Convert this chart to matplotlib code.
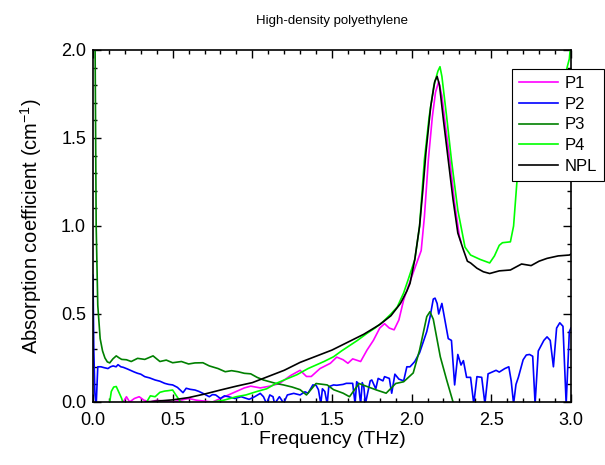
import matplotlib
matplotlib.use("Agg")
import matplotlib.pyplot as plt
import numpy as np
from matplotlib.ticker import MultipleLocator

plt.rcParams["font.family"] = ["Liberation Sans", "DejaVu Sans"]

# (frequency THz, absorption cm^-1)
p1 = [(0.19, 0.0), (0.21, 0.03), (0.23, 0.0), (0.26, 0.02), (0.29, 0.03), (0.32, 0.01),
      (0.36, 0.0), (0.40, 0.01), (0.45, 0.005), (0.50, 0.0), (0.55, 0.01), (0.60, 0.02),
      (0.65, 0.01), (0.70, 0.005), (0.75, 0.0), (0.80, 0.02), (0.85, 0.04), (0.90, 0.06),
      (0.95, 0.08), (0.99, 0.09), (1.05, 0.08), (1.11, 0.09), (1.17, 0.105), (1.24, 0.15),
      (1.30, 0.18), (1.34, 0.145), (1.37, 0.145), (1.425, 0.19), (1.49, 0.22), (1.53, 0.255),
      (1.57, 0.24), (1.60, 0.22), (1.63, 0.245), (1.68, 0.23), (1.72, 0.295), (1.76, 0.35),
      (1.80, 0.42), (1.83, 0.445), (1.86, 0.42), (1.89, 0.41), (1.92, 0.466), (1.95, 0.58),
      (1.98, 0.66), (2.02, 0.76), (2.06, 0.86), (2.08, 1.05), (2.105, 1.375), (2.13, 1.62),
      (2.15, 1.76), (2.17, 1.82), (2.19, 1.74), (2.215, 1.55), (2.24, 1.375), (2.27, 1.13),
      (2.30, 0.94), (2.31, 0.91)]

p2 = [(0.0, 0.72), (0.005, 0.3), (0.012, 0.05), (0.02, -0.02), (0.03, 0.2), (0.05, 0.2),
      (0.07, 0.195), (0.094, 0.19), (0.11, 0.2), (0.126, 0.205), (0.145, 0.2), (0.157, 0.212),
      (0.175, 0.2), (0.19, 0.197), (0.215, 0.188), (0.24, 0.178), (0.26, 0.17), (0.28, 0.163),
      (0.30, 0.158), (0.325, 0.144), (0.355, 0.137), (0.39, 0.125), (0.42, 0.118), (0.45, 0.106),
      (0.475, 0.1), (0.50, 0.097), (0.53, 0.083), (0.565, 0.053), (0.585, 0.078), (0.61, 0.072),
      (0.64, 0.068), (0.665, 0.06), (0.69, 0.049), (0.73, 0.03), (0.75, 0.042), (0.77, 0.04),
      (0.80, 0.02), (0.825, 0.035), (0.85, 0.03), (0.89, 0.02), (0.93, 0.03), (0.98, 0.015),
      (1.015, 0.03), (1.05, 0.049), (1.07, 0.03), (1.09, -0.01), (1.11, 0.04), (1.13, 0.03),
      (1.14, -0.01), (1.17, 0.03), (1.185, 0.01), (1.195, -0.01), (1.22, 0.04), (1.26, 0.049),
      (1.30, 0.04), (1.33, 0.058), (1.35, 0.05), (1.38, 0.097), (1.40, 0.095), (1.415, 0.07),
      (1.43, -0.01), (1.44, 0.075), (1.455, 0.06), (1.47, -0.01), (1.48, 0.087), (1.51, 0.097),
      (1.53, 0.095), (1.57, 0.1), (1.59, 0.106), (1.63, 0.106), (1.645, -0.01), (1.655, 0.115),
      (1.665, 0.106), (1.68, -0.01), (1.69, 0.11), (1.70, 0.087), (1.71, -0.01), (1.74, 0.12),
      (1.75, 0.125), (1.775, 0.075), (1.79, 0.134), (1.82, 0.12), (1.83, 0.144), (1.86, 0.134),
      (1.875, 0.05), (1.895, 0.158), (1.92, 0.13), (1.95, 0.12), (1.97, 0.2), (1.99, 0.2),
      (2.02, 0.23), (2.05, 0.28), (2.07, 0.333), (2.095, 0.4), (2.115, 0.48), (2.136, 0.585),
      (2.147, 0.59), (2.16, 0.56), (2.17, 0.5), (2.19, 0.56), (2.21, 0.46), (2.23, 0.36),
      (2.25, 0.35), (2.27, 0.097), (2.29, 0.27), (2.31, 0.21), (2.325, 0.235), (2.345, 0.14),
      (2.37, 0.14), (2.39, -0.01), (2.41, 0.144), (2.44, 0.14), (2.46, -0.01), (2.48, 0.16),
      (2.50, 0.168), (2.53, 0.18), (2.55, 0.17), (2.585, 0.19), (2.61, 0.2), (2.625, 0.12),
      (2.64, -0.01), (2.655, 0.1), (2.67, 0.14), (2.70, 0.24), (2.72, 0.267), (2.74, 0.27),
      (2.76, 0.26), (2.775, -0.01), (2.795, 0.29), (2.83, 0.35), (2.85, 0.37), (2.87, 0.35),
      (2.89, 0.2), (2.91, 0.42), (2.93, 0.45), (2.95, 0.43), (2.97, -0.01), (2.99, 0.4),
      (3.0, 0.42)]

p3 = [(0.0, 3.0), (0.012, 2.2), (0.02, 1.0), (0.03, 0.55), (0.045, 0.36), (0.06, 0.29),
      (0.075, 0.25), (0.09, 0.228), (0.105, 0.222), (0.125, 0.245), (0.146, 0.262), (0.165, 0.25),
      (0.18, 0.242), (0.21, 0.24), (0.24, 0.23), (0.28, 0.248), (0.325, 0.242), (0.377, 0.262),
      (0.42, 0.23), (0.46, 0.238), (0.50, 0.223), (0.555, 0.23), (0.60, 0.216), (0.64, 0.222),
      (0.69, 0.223), (0.73, 0.205), (0.785, 0.19), (0.83, 0.172), (0.87, 0.178), (0.91, 0.172),
      (0.95, 0.163), (0.99, 0.16), (1.03, 0.14), (1.07, 0.125), (1.11, 0.115), (1.15, 0.105),
      (1.195, 0.097), (1.25, 0.085), (1.30, 0.07), (1.34, 0.04), (1.40, 0.105), (1.47, 0.097),
      (1.51, 0.07), (1.57, 0.05), (1.61, 0.03), (1.67, 0.105), (1.72, 0.088), (1.78, 0.068),
      (1.84, 0.05), (1.90, 0.105), (1.95, 0.115), (2.01, 0.165), (2.05, 0.295), (2.095, 0.485),
      (2.115, 0.513), (2.136, 0.47), (2.18, 0.257), (2.22, 0.125), (2.26, 0.0), (2.30, -0.1)]

p4 = [(0.08, -0.05), (0.105, 0.0), (0.115, 0.06), (0.13, 0.085), (0.146, 0.088), (0.16, 0.06),
      (0.18, 0.02), (0.19, -0.01), (0.25, -0.03), (0.33, -0.01), (0.36, 0.035), (0.39, 0.03),
      (0.42, 0.055), (0.45, 0.062), (0.47, 0.064), (0.50, 0.068), (0.52, 0.04), (0.55, 0.0),
      (0.60, -0.01), (0.70, -0.005), (0.75, 0.0), (0.82, 0.01), (0.90, 0.03), (0.96, 0.04),
      (1.03, 0.06), (1.09, 0.075), (1.15, 0.106), (1.20, 0.125), (1.28, 0.155), (1.35, 0.19),
      (1.40, 0.21), (1.45, 0.23), (1.51, 0.257), (1.56, 0.29), (1.61, 0.32), (1.66, 0.35),
      (1.72, 0.39), (1.77, 0.42), (1.82, 0.456), (1.87, 0.5), (1.91, 0.54), (1.95, 0.62),
      (1.98, 0.7), (2.02, 0.81), (2.05, 1.0), (2.08, 1.375), (2.11, 1.62), (2.14, 1.8),
      (2.165, 1.88), (2.178, 1.905), (2.19, 1.85), (2.22, 1.62), (2.25, 1.375), (2.29, 1.09),
      (2.335, 0.88), (2.37, 0.835), (2.43, 0.81), (2.49, 0.79), (2.52, 0.83), (2.55, 0.89),
      (2.57, 0.905), (2.62, 0.91), (2.64, 1.0), (2.66, 1.24), (2.68, 1.45), (2.72, 1.65),
      (2.78, 1.75), (2.85, 1.8), (2.92, 1.85), (2.97, 1.88), (2.99, 1.95), (3.0, 2.05)]

npl = [(0.30, -0.01), (0.33, 0.0), (0.40, 0.005), (0.50, 0.012), (0.60, 0.025), (0.70, 0.045),
       (0.80, 0.068), (0.90, 0.09), (1.00, 0.11), (1.10, 0.145), (1.20, 0.18), (1.30, 0.225),
       (1.40, 0.26), (1.50, 0.295), (1.60, 0.34), (1.70, 0.385), (1.80, 0.44), (1.87, 0.49),
       (1.93, 0.56), (1.97, 0.63), (1.99, 0.674), (2.02, 0.81), (2.05, 1.0), (2.07, 1.2),
       (2.09, 1.42), (2.12, 1.68), (2.145, 1.82), (2.16, 1.85), (2.175, 1.8), (2.20, 1.6),
       (2.23, 1.375), (2.26, 1.15), (2.29, 0.96), (2.325, 0.864), (2.35, 0.8), (2.37, 0.79),
       (2.41, 0.76), (2.45, 0.74), (2.49, 0.73), (2.55, 0.745), (2.62, 0.75), (2.69, 0.784),
       (2.75, 0.775), (2.80, 0.80), (2.85, 0.816), (2.92, 0.83), (2.99, 0.835), (3.0, 0.84)]

series = [("P1", p1, "#ff00ff"), ("P2", p2, "#0000ff"), ("P3", p3, "#008000"),
          ("P4", p4, "#00ff00"), ("NPL", npl, "black")]

fig = plt.figure(figsize=(6.05, 4.65), dpi=100)
ax = fig.add_axes([0.1537, 0.1355, 0.79, 0.757])

for name, pts, col in series:
    x, y = np.array(pts).T
    ax.plot(x, y, color=col, lw=1.2, label=name)

ax.set_xlim(0, 3.0)
ax.set_ylim(0, 2.0)
ax.xaxis.set_major_locator(MultipleLocator(0.5))
ax.xaxis.set_minor_locator(MultipleLocator(0.1))
ax.yaxis.set_major_locator(MultipleLocator(0.5))
ax.yaxis.set_minor_locator(MultipleLocator(0.1))
ax.tick_params(which="both", direction="in", top=True, right=True, width=1)
ax.tick_params(which="major", length=6, labelsize=13)
ax.tick_params(which="minor", length=3)
ax.tick_params(axis="x", which="major", pad=7)
ax.tick_params(axis="y", which="major", pad=5)
for s in ax.spines.values():
    s.set_linewidth(1.2)

ax.set_xlabel("Frequency (THz)", fontsize=14, labelpad=2)
ax.set_ylabel(r"Absorption coefficient (cm$^{\mathregular{-1}}$)", fontsize=14.5, labelpad=12)
ax.set_title("High-density polyethylene", fontsize=9.5, pad=19)

leg = ax.legend(loc="upper left", bbox_to_anchor=(512 / 605, 1 - 69 / 465),
                bbox_transform=fig.transFigure, fontsize=12, frameon=True,
                fancybox=False, framealpha=1, edgecolor="black", borderpad=0.4,
                handlelength=2.35, labelspacing=0.35, handletextpad=0.4, borderaxespad=0)
leg.get_frame().set_linewidth(0.8)

fig.savefig("out.png", dpi=100)
